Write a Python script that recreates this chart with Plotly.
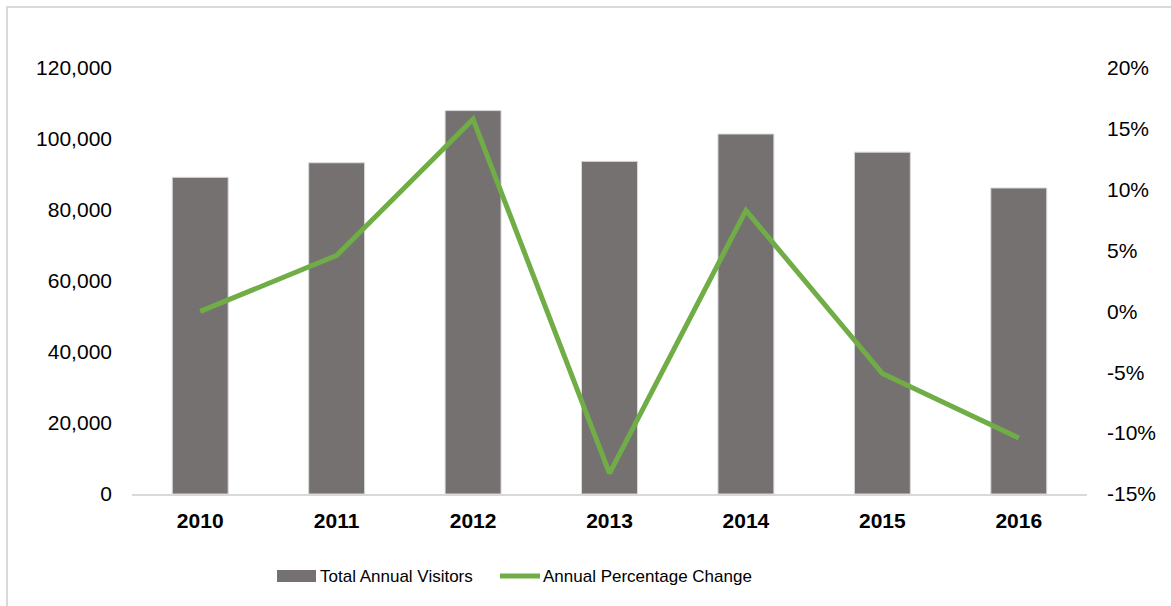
import plotly.graph_objects as go

# Annual visitor totals and year-over-year change
years = ["2010", "2011", "2012", "2013", "2014", "2015", "2016"]
visitors = [89200, 93300, 108000, 93700, 101400, 96300, 86200]
pct_change = [0.0, 4.6, 15.8, -13.3, 8.3, -5.1, -10.4]

left_ticks = [0, 20000, 40000, 60000, 80000, 100000, 120000]
right_ticks = [-15, -10, -5, 0, 5, 10, 15, 20]

BAR_COLOR = "#767171"
LINE_COLOR = "#70ad47"
AXIS_GRAY = "#d9d9d9"
FONT = "Liberation Sans, Arial, sans-serif"

W, H = 1171, 606
L, R, T, B = 132, 84, 68, 112
pw, ph = W - L - R, H - T - B


def px_x(x):
    return (x - L) / pw


def px_y(y):
    return (H - B - y) / ph


fig = go.Figure()
fig.add_trace(go.Bar(
    x=years, y=visitors, name="Total Annual Visitors",
    marker=dict(color=BAR_COLOR, line=dict(color=AXIS_GRAY, width=1)),
    width=0.41, yaxis="y", showlegend=False,
))
fig.add_trace(go.Scatter(
    x=years, y=pct_change, name="Annual Percentage Change",
    mode="lines", line=dict(color=LINE_COLOR, width=5),
    yaxis="y2", showlegend=False,
))

fig.update_layout(
    width=W, height=H,
    margin=dict(l=L, r=R, t=T, b=B),
    paper_bgcolor="white", plot_bgcolor="white",
    font=dict(family=FONT, size=21, color="#000000"),
    xaxis=dict(
        type="category", showgrid=False, zeroline=False,
        showline=True, linecolor=AXIS_GRAY, linewidth=2,
        ticks="", tickfont=dict(family=FONT, size=21, color="#000000", weight="bold"),
        ticklabelstandoff=7,
    ),
    yaxis=dict(
        range=[0, 120000], tickvals=left_ticks,
        ticktext=[f"{v:,}" for v in left_ticks],
        showgrid=False, zeroline=False, showline=False, ticks="",
        ticklabelstandoff=19,
    ),
    yaxis2=dict(
        range=[-15, 20], tickvals=right_ticks,
        ticktext=[f"{v}%" for v in right_ticks],
        overlaying="y", side="right",
        showgrid=False, zeroline=False, showline=False, ticks="",
        ticklabelstandoff=19,
    ),
    bargap=0.59,
)

# Outer frame (top and left edges)
fig.add_shape(type="line", xref="paper", yref="paper",
              x0=px_x(6), x1=px_x(W + 5), y0=px_y(7), y1=px_y(7),
              line=dict(color=AXIS_GRAY, width=2))
fig.add_shape(type="line", xref="paper", yref="paper",
              x0=px_x(7), x1=px_x(7), y0=px_y(6), y1=px_y(H + 5),
              line=dict(color=AXIS_GRAY, width=2))

# Legend
leg_y = 576
fig.add_shape(type="rect", xref="paper", yref="paper",
              x0=px_x(277), x1=px_x(316), y0=px_y(582), y1=px_y(570),
              fillcolor=BAR_COLOR, line=dict(width=0))
fig.add_annotation(xref="paper", yref="paper", x=px_x(318), y=px_y(leg_y),
                   text="Total Annual Visitors", showarrow=False,
                   xanchor="left", yanchor="middle",
                   font=dict(family=FONT, size=17, color="#000000"))
fig.add_shape(type="line", xref="paper", yref="paper",
              x0=px_x(500), x1=px_x(540), y0=px_y(leg_y), y1=px_y(leg_y),
              line=dict(color=LINE_COLOR, width=5))
fig.add_annotation(xref="paper", yref="paper", x=px_x(541), y=px_y(leg_y),
                   text="Annual Percentage Change", showarrow=False,
                   xanchor="left", yanchor="middle",
                   font=dict(family=FONT, size=17, color="#000000"))

fig.write_html("out.html")
